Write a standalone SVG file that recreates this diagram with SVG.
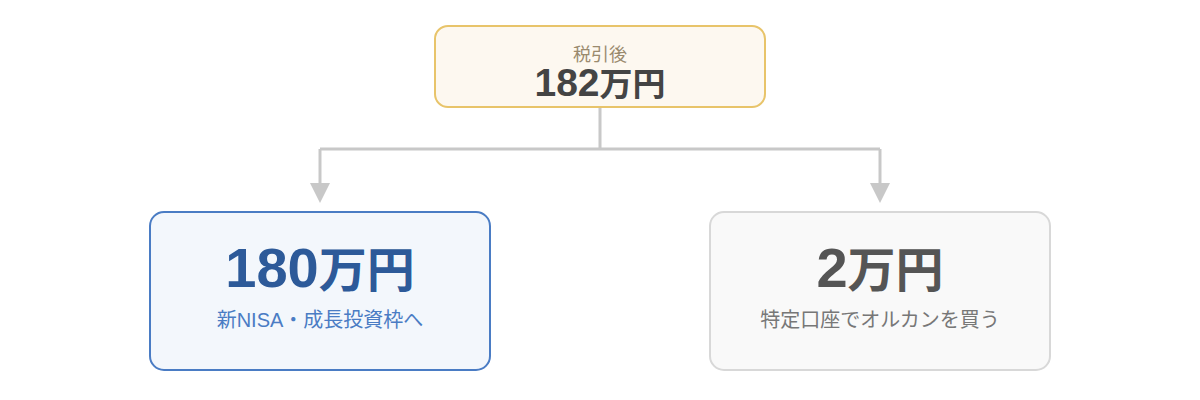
<svg xmlns="http://www.w3.org/2000/svg" width="1200" height="400" viewBox="0 0 1200 400">
<defs>
<style>
text{font-family:"Liberation Sans","Noto Sans CJK JP",sans-serif;text-anchor:middle}
.conn{fill:none;stroke:#c8c8c8;stroke-width:3}
.head{fill:#c8c8c8}
.big{font-size:56px;font-weight:700}
.bigj{font-size:48px}
.sub{font-size:20px}
</style>
</defs>
<rect width="1200" height="400" fill="#ffffff"/>
<g id="connectors">
<path class="conn" d="M600,107 V149 M320,149 H880"/>
<path class="conn" d="M320,149 V185"/>
<path class="conn" d="M880,149 V185"/>
<path class="head" d="M310,183 L330,183 L320,203 Z"/>
<path class="head" d="M870,183 L890,183 L880,203 Z"/>
</g>
<g id="node-top">
<rect x="435" y="26" width="330" height="81" rx="13" fill="#fdf8f0" stroke="#e8c46a" stroke-width="2"/>
<text x="600" y="61" font-size="18" fill="#9a8a6e">税引後</text>
<text x="600" y="96" font-size="39" font-weight="700" fill="#444444">182<tspan font-size="33">万円</tspan></text>
</g>
<g id="node-nisa">
<rect x="150" y="212" width="340" height="158" rx="14" fill="#f3f7fc" stroke="#4a7cc4" stroke-width="2"/>
<text class="big" x="320" y="287" fill="#2d5a99">180<tspan class="bigj">万円</tspan></text>
<text class="sub" x="320" y="327" fill="#4a7cc4">新NISA・成長投資枠へ</text>
</g>
<g id="node-tokutei">
<rect x="710" y="212" width="340" height="158" rx="14" fill="#f9f9f9" stroke="#d8d8d8" stroke-width="2"/>
<text class="big" x="880" y="287" fill="#555555">2<tspan class="bigj">万円</tspan></text>
<text class="sub" x="880" y="327" fill="#777777">特定口座でオルカンを買う</text>
</g>
</svg>
